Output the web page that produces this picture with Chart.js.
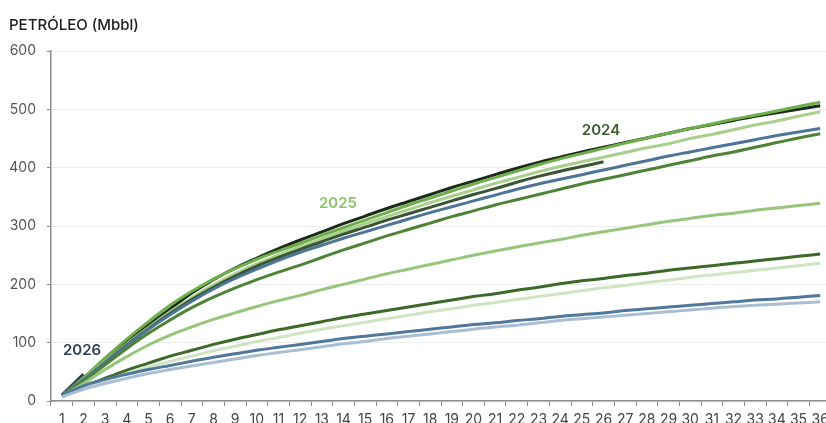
<!DOCTYPE html>
<html>
<head>
<meta charset="utf-8">
<script src="https://cdn.jsdelivr.net/npm/chart.js@4"></script>
<style>
  html, body { margin: 0; padding: 0; background: #fff; overflow: hidden; }
  #wrap { position: absolute; left: 0; top: 0; width: 850px; height: 440px; }
</style>
</head>
<body>
<div id="wrap"><canvas id="petroleo" width="850" height="440"></canvas></div>
<script>
// meses desde el inicio
const months = [];
for (let m = 1; m <= 36; m++) months.push(String(m));

const yTicks = [0, 100, 200, 300, 400, 500, 600];

// curvas acumuladas (Mbbl)
const serieA = [9, 40, 74, 106, 136, 164, 188, 209, 227, 243, 257, 270, 284, 297, 310, 323, 336, 348, 360, 372, 383, 394, 405, 415, 424, 433, 442, 451, 459, 467, 475, 483, 490, 497, 505, 512];
const serieB = [10, 38, 70, 101, 130, 158, 185, 208, 228, 245, 261, 276, 290, 304, 317, 330, 342, 354, 366, 377, 388, 399, 409, 418, 427, 435, 443, 451, 459, 467, 474, 481, 488, 494, 500, 506];
const serieC = [9, 37, 68, 98, 126, 153, 177, 199, 218, 235, 250, 264, 278, 291, 304, 316, 328, 340, 351, 362, 373, 383, 393, 402, 410, 418, 426, 434, 441, 450, 457, 465, 473, 480, 488, 496];
const serie2024 = [10, 36, 66, 96, 124, 150, 174, 195, 214, 231, 246, 260, 273, 286, 298, 310, 321, 332, 343, 354, 364, 375, 385, 394, 402, 410];
const serieE = [10, 36, 66, 95, 123, 148, 171, 192, 210, 226, 241, 255, 267, 279, 290, 301, 312, 323, 333, 343, 353, 363, 372, 380, 388, 396, 404, 412, 420, 427, 434, 441, 448, 455, 461, 467];
const serieF = [9, 34, 62, 90, 116, 139, 160, 178, 194, 208, 221, 233, 246, 259, 271, 283, 294, 305, 316, 326, 336, 345, 354, 363, 372, 380, 388, 396, 404, 412, 420, 427, 435, 443, 451, 458];
const serieG = [8, 30, 54, 76, 96, 113, 127, 140, 151, 162, 172, 181, 191, 200, 209, 218, 226, 234, 242, 250, 257, 264, 271, 277, 284, 290, 296, 302, 308, 313, 318, 322, 327, 331, 335, 339];
const serieH = [8, 24, 39, 53, 65, 77, 87, 97, 106, 114, 122, 129, 136, 143, 149, 155, 161, 167, 173, 179, 184, 190, 195, 201, 206, 210, 215, 219, 224, 228, 232, 236, 240, 244, 248, 252];
const serieI = [8, 22, 35, 47, 58, 68, 77, 86, 94, 102, 109, 116, 123, 129, 135, 141, 147, 153, 158, 164, 169, 174, 179, 184, 189, 194, 198, 203, 207, 212, 216, 220, 224, 228, 232, 236];
const serieJ = [9, 26, 37, 46, 54, 61, 68, 75, 81, 87, 92, 97, 102, 107, 111, 115, 119, 123, 127, 131, 134, 138, 141, 145, 148, 151, 155, 158, 161, 164, 167, 170, 173, 175, 178, 181];
const serieK = [7, 20, 30, 39, 47, 54, 60, 66, 72, 78, 83, 88, 93, 98, 102, 107, 111, 115, 119, 123, 127, 130, 134, 138, 141, 144, 147, 150, 153, 156, 159, 162, 164, 166, 168, 170];
const serie2026 = [10, 46];

const yearLabels = [
    {text: '2024', x: 601, y: 130, color: '#3a5e2d'},
    {text: '2025', x: 338, y: 203, color: '#8cc36b'},
    {text: '2026', x: 82, y: 350, color: '#2c3f56'}
];

function makeSet(data, color) {
    return {
        data: data,
        borderColor: color,
        borderWidth: 3,
        pointRadius: 0,
        tension: 0.4,
        fill: false
    };
}

const textPlugin = {
    id: 'textos',
    afterDraw(chart) {
        const ctx = chart.ctx;
        ctx.save();
        ctx.textBaseline = 'middle';
        ctx.textAlign = 'left';
        ctx.fillStyle = '#1e1e1e';
        ctx.font = '500 15px Inter, "Open Sans", sans-serif';
        ctx.fillText('PETRÓLEO (Mbbl)', 9, 25);
        ctx.textAlign = 'center';
        ctx.font = '600 15px Inter, "Open Sans", sans-serif';
        yearLabels.forEach(l => {
            ctx.fillStyle = l.color;
            ctx.fillText(l.text, l.x, l.y);
        });
        ctx.restore();
    }
};

function drawChart() {
    const ctx = document.getElementById('petroleo');
    new Chart(ctx, {
        type: 'line',
        data: {
            labels: months,
            datasets: [
                makeSet(serieK, '#a9bed3'),
                makeSet(serieJ, '#4f789c'),
                makeSet(serieI, '#cfe4c1'),
                makeSet(serieH, '#3b6a28'),
                makeSet(serieG, '#96c67c'),
                makeSet(serieF, '#4e8236'),
                makeSet(serieE, '#4c7597'),
                makeSet(serie2024, '#3b5534'),
                makeSet(serieC, '#a8d08c'),
                makeSet(serieA, '#6fae4c'),
                makeSet(serieB, '#1c2b18'),
                makeSet(serie2026, '#2b4055')
            ]
        },
        options: {
            responsive: false,
            animation: false,
            devicePixelRatio: 1,
            layout: {padding: {top: 51, left: 0, right: 19, bottom: 0}},
            plugins: {
                legend: {display: false},
                tooltip: {enabled: false}
            },
            scales: {
                x: {
                    offset: true,
                    grid: {
                        offset: true,
                        drawOnChartArea: false,
                        tickColor: '#8c8c8c',
                        tickLength: 5
                    },
                    border: {color: '#8c8c8c', width: 1.5},
                    ticks: {
                        autoSkip: false,
                        maxRotation: 0,
                        padding: 5,
                        color: '#444',
                        font: {family: 'Inter', size: 14}
                    },
                    afterFit: s => { s.height = 39; }
                },
                y: {
                    min: 0,
                    max: 600,
                    afterBuildTicks: s => { s.ticks = yTicks.map(v => ({value: v})); },
                    grid: {
                        color: '#ececec',
                        tickColor: '#8c8c8c',
                        tickLength: 4
                    },
                    border: {color: '#8c8c8c', width: 1.5},
                    ticks: {
                        padding: 11,
                        color: '#555',
                        font: {family: 'Inter', size: 14}
                    },
                    afterFit: s => { s.width = 51; }
                }
            }
        },
        plugins: [textPlugin]
    });
}

window.addEventListener('load', evt => drawChart());
</script>
</body>
</html>
